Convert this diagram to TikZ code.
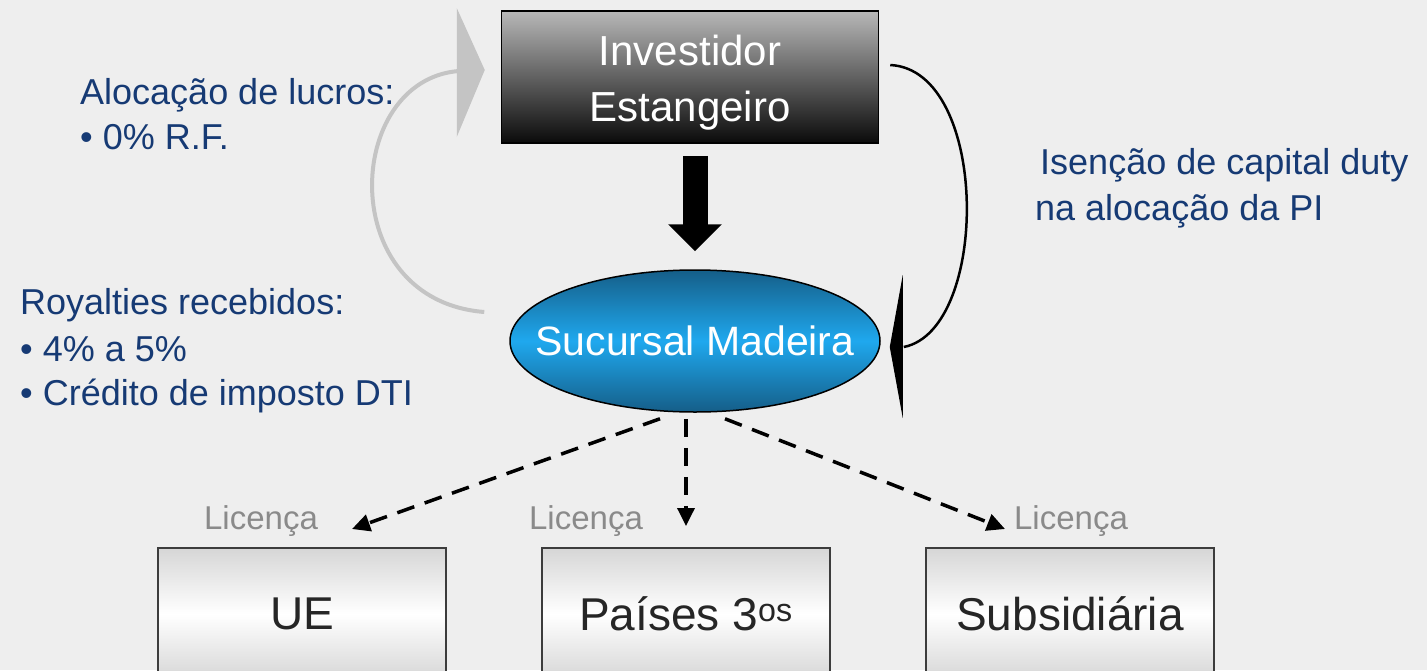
\documentclass[tikz,border=0pt]{standalone}
\usepackage{fontspec}
\setmainfont{Liberation Sans}
\usetikzlibrary{calc,shapes.geometric,arrows.meta}
\definecolor{bggray}{HTML}{EEEEEE}
\definecolor{navytext}{HTML}{163A74}
\definecolor{loopgray}{HTML}{C4C4C4}
\definecolor{lictext}{HTML}{8A8A8A}
\definecolor{boxline}{HTML}{3C3C3C}
\definecolor{boxshade}{HTML}{D6D6D6}
\definecolor{madeiradark}{HTML}{155E88}
\definecolor{madeiralight}{HTML}{1FA8EE}
\tikzset{
  note/.style={anchor=base west, inner sep=0pt, text=navytext, font=\fontsize{36}{44}\selectfont},
  licenca/.style={anchor=base, inner sep=0pt, text=lictext, font=\fontsize{33}{40}\selectfont},
  destbox/.style={draw=boxline, line width=2pt, minimum width=288pt, minimum height=132pt,
    top color=boxshade, bottom color=boxshade, middle color=white, text=black!85,
    font=\fontsize{46}{54}\selectfont},
  licarrow/.style={line width=3.5pt, dash pattern=on 18pt off 11pt, -{Triangle[length=18pt,width=17pt]}}
}
\begin{document}
\begin{tikzpicture}[x=1pt,y=-1pt]
			%%%%% START %%%%%
			
			\fill[bggray] (0,0) rectangle (1427,670);
			\useasboundingbox (0,0) rectangle (1427,670);
			\clip (0,0) rectangle (1427,670);
			
			% investidor e sucursal
			\node[draw=black, line width=1.5pt, minimum width=377pt, minimum height=132pt,
			  top color=black!28, bottom color=black!96,
			  label={[name=investidortxt, yshift=-6pt, text=white, align=center, font=\fontsize{42}{56}\selectfont]center:Investidor\\Estangeiro}] (investidor) at (690,77) {};
			\node[ellipse, draw=black, line width=1.5pt, minimum width=370pt, minimum height=142pt,
			  top color=madeiradark, bottom color=madeiradark, middle color=madeiralight,
			  label={[name=sucursaltxt, text=white, font=\fontsize{41}{48}\selectfont]center:Sucursal Madeira}] (sucursal) at (695,341) {};
			
			\draw[line width=25pt, -{Triangle[length=27pt,width=52pt]}, shorten <=12pt, shorten >=18pt]
			  (sucursal.north |- investidor.south) -- (sucursal.north);
			
			% lucros de volta ao investidor
			\draw[loopgray, line width=4pt] ($(sucursal.west)+(-25,-29)$) .. controls (334,300) and (344,80) .. ($(investidor.west)+(-42,-6)$);
			\fill[loopgray] ($(investidor.west)+(-44,-69)$) -- ($(investidor.west)+(-16,-7)$) -- ($(investidor.west)+(-44,60)$) -- cycle;
			
			% capital duty
			\draw[line width=2.5pt] ($(investidor.east)+(11,-12)$) .. controls (990,70) and (990,330) .. ($(sucursal.east)+(23,6)$);
			\fill[black] ($(sucursal.east)+(22,-66)$) -- ($(sucursal.east)+(9,6)$) -- ($(sucursal.east)+(22,77)$) -- cycle;
			
			% textos
			\node[note] (aloc1) at (80,104) {Alocação de lucros:};
			\node[note] (aloc2) at (80,149) {• 0\% R.F.};
			\node[note] (roy1) at (20,314) {Royalties recebidos:};
			\node[note] (roy2) at (20,361) {• 4\% a 5\%};
			\node[note] (roy3) at (20,405) {• Crédito de imposto DTI};
			\node[note] (isen1) at (1040,174) {Isenção de capital duty};
			\node[note] (isen2) at (1035,220) {na alocação da PI};
			
			% licencas
			\node[destbox] (ue) at (302,614) {UE};
			\node[destbox] (paises) at (686,614) {Países 3\textsuperscript{os}};
			\node[destbox] (subsid) at (1070,614) {Subsidiária};
			
			\node[licenca] (lic1) at (261,529) {Licença};
			\node[licenca] (lic2) at (586,529) {Licença};
			\node[licenca] (lic3) at (1071,529) {Licença};
			
			\draw[licarrow] ($(sucursal.south)+(-35,6)$) -- ($(ue.north)+(50,-18)$);
			\draw[licarrow] ($(sucursal.south)+(-9,6)$) -- ($(paises.north)+(0,-21)$);
			\draw[licarrow] ($(sucursal.south)+(30,6)$) -- ($(subsid.north)+(-65,-18)$);
			
			%%%%% END %%%%%
\end{tikzpicture}
\end{document}
